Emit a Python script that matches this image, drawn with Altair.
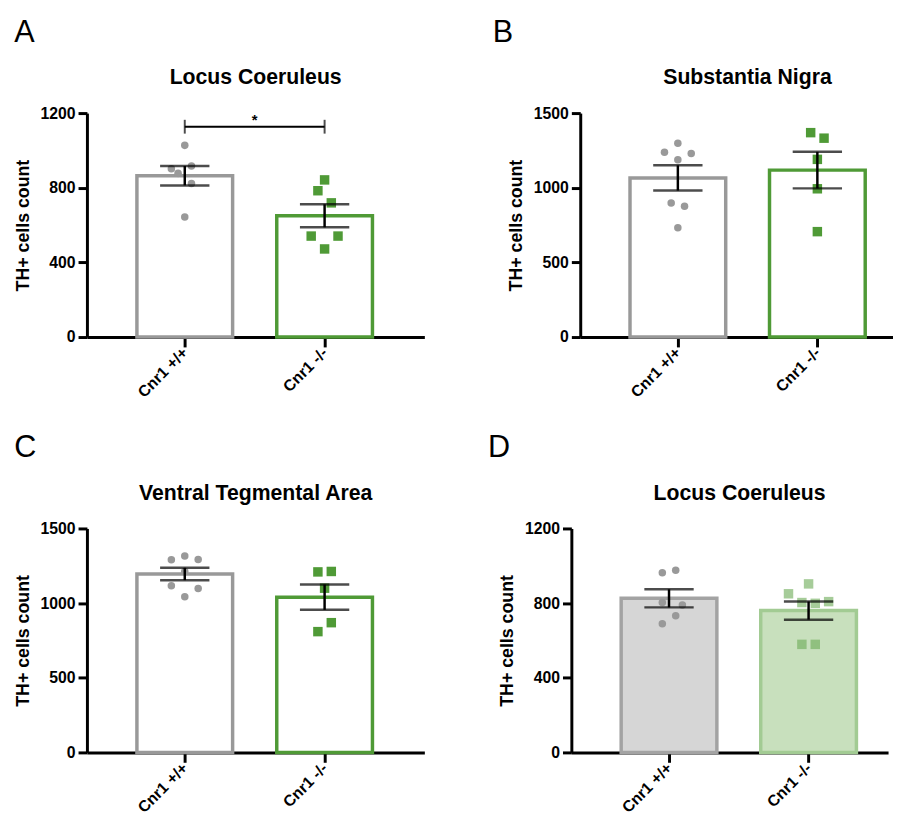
import altair as alt
import pandas as pd

FONT = "Liberation Sans"

groups = ["Cnr1 +/+", "Cnr1 -/-"]
panel_letters = ["A", "B", "C", "D"]
panel_titles = ["Locus Coeruleus", "Substantia Nigra", "Ventral Tegmental Area", "Locus Coeruleus"]
y_axis_title = "TH+ cells count"

# TH+ cell counts of individual animals
lc_wt = [1027, 902, 877, 916, 823, 643]
lc_ko = [842, 784, 719, 541, 541, 472]
sn_wt = [1298, 1237, 1230, 1188, 898, 876, 732]
sn_ko = [1369, 1332, 1190, 993, 706]
vta_wt = [1290, 1315, 1292, 1211, 1116, 1098, 1043]
vta_ko = [1209, 1212, 1100, 869, 809]
lc2_wt = [963, 976, 803, 790, 732, 690]
lc2_ko = [850, 903, 803, 799, 808, 579, 579]

# scatter slot (column) of each dot within its group
lc_wt_slot = [0, -2, -1, 1, 1, 0]
lc_ko_slot = [0, -1, 1, -2, 2, 0]
sn_wt_slot = [0, -2, 2, 0, -1, 1, 0]
sn_ko_slot = [-1, 1, 0, 0, 0]
vta_wt_slot = [-2, 0, 2, 0, -2, 2, 0]
vta_ko_slot = [-1, 1, 0, 1, -1]
lc2_wt_slot = [-1, 1, -1, 2, 1, -1]
lc2_ko_slot = [-3, 0, -1, 1, 3, -1, 1]

y_max = [1200, 1500, 1500, 1200]
y_ticks = [[0, 400, 800, 1200], [0, 500, 1000, 1500],
           [0, 500, 1000, 1500], [0, 400, 800, 1200]]

sig_level = 1127
sig_label = "*"

GRAY = "#999999"
GREEN = "#4f9a36"
PX_PER_UNIT = 146.0
X_MIN = -97.0 / PX_PER_UNIT
SLOT = 7.0 / PX_PER_UNIT
PLOT_H = 227

label_expr = "datum.value == 0 ? '%s' : '%s'" % (groups[0], groups[1])


def make_panel(letter, title, wt, ko, wt_slot, ko_slot, ymax, yticks, width,
               light=False, bracket=False, title_dx=0, letter_dx=0):
    df = pd.DataFrame({
        "idx": [0] * len(wt) + [1] * len(ko),
        "value": wt + ko,
        "slot": wt_slot + ko_slot,
    })
    xs = alt.Scale(domain=[X_MIN, X_MIN + width / PX_PER_UNIT], nice=False, zero=False)
    ys = alt.Scale(domain=[0, ymax], nice=False)
    xaxis = alt.Axis(values=[0, 1], labelExpr=label_expr, labelAngle=-45,
                     labelAlign="right", labelBaseline="middle",
                     labelFontSize=16, labelFontWeight="bold", labelColor="black",
                     labelPadding=3, tickSize=10, tickWidth=3, tickColor="black",
                     domainWidth=3, domainColor="black", grid=False, title=None)
    yaxis = alt.Axis(values=yticks, format="d", labelFontSize=16, labelFontWeight="bold",
                     labelColor="black", labelPadding=3, tickSize=9, tickWidth=3,
                     tickColor="black", domainWidth=3, domainColor="black", grid=False,
                     title=y_axis_title, titleFontSize=18, titleFontWeight="bold",
                     titleColor="black", titlePadding=8)
    X = lambda f: alt.X(f, scale=xs, axis=xaxis, title=None)
    Y = lambda f: alt.Y(f, scale=ys, axis=yaxis, title=y_axis_title)

    if light:
        fills = ("#d6d6d6", "#c8e0bd")
        strokes = ("#a3a3a3", "#a2cb93")
        pcol = (GRAY, "#6aaa55")
        pop = (1.0, 0.6)
    else:
        fills = ("white", "white")
        strokes = (GRAY, GREEN)
        pcol = (GRAY, GREEN)
        pop = (1.0, 1.0)
    cond = "datum.idx == 0"
    base = alt.Chart(df)

    bars = base.mark_bar(size=97, strokeWidth=3.5).encode(
        x=X("idx:Q"),
        y=Y("mean(value):Q"),
        fill=alt.condition(cond, alt.value(fills[0]), alt.value(fills[1])),
        stroke=alt.condition(cond, alt.value(strokes[0]), alt.value(strokes[1])),
    )
    pts = base.transform_calculate(px="datum.idx + datum.slot * %f" % SLOT).mark_point(
        filled=True, strokeWidth=0).encode(
        x=X("px:Q"),
        y=Y("value:Q"),
        shape=alt.condition(cond, alt.value("circle"), alt.value("square")),
        size=alt.condition(cond, alt.value(58), alt.value(92)),
        color=alt.condition(cond, alt.value(pcol[0]), alt.value(pcol[1])),
        opacity=alt.condition(cond, alt.value(pop[0]), alt.value(pop[1])),
    )
    agg = base.transform_aggregate(m="mean(value)", se="stderr(value)", groupby=["idx"]) \
        .transform_calculate(lo="datum.m - datum.se", hi="datum.m + datum.se")
    stem = agg.mark_rule(strokeWidth=2.5, color="black").encode(
        x=X("idx:Q"), y=Y("lo:Q"), y2="hi:Q")
    cap_hi = agg.mark_tick(orient="horizontal", size=50, thickness=2.5, color="black").encode(
        x=X("idx:Q"), y=Y("hi:Q"))
    cap_lo = agg.mark_tick(orient="horizontal", size=50, thickness=2.5, color="black").encode(
        x=X("idx:Q"), y=Y("lo:Q"))
    layers = [bars, pts, stem, cap_hi, cap_lo]

    if bracket:
        br = pd.DataFrame({"a": [0], "b": [1], "y": [sig_level]})
        ends = pd.DataFrame({"idx": [0, 1], "y": [sig_level, sig_level]})
        layers.append(alt.Chart(br).mark_rule(strokeWidth=2, color="black").encode(
            x=X("a:Q"), x2="b:Q", y=Y("y:Q")))
        layers.append(alt.Chart(ends).mark_tick(orient="vertical", size=14, thickness=2,
                                                color="black").encode(x=X("idx:Q"), y=Y("y:Q")))
        layers.append(alt.Chart(br).transform_calculate(mid="(datum.a + datum.b) / 2").mark_text(
            text=sig_label, fontSize=15, fontWeight="bold", baseline="alphabetic", dy=-2,
            color="black").encode(x=X("mid:Q"), y=Y("y:Q")))

    inner = alt.layer(*layers).properties(
        width=width, height=PLOT_H,
        title=alt.Title(title, fontSize=21.5, fontWeight="bold", color="black", anchor="middle",
                        frame="group", dx=title_dx, offset=16.5))
    return alt.vconcat(inner, title=alt.Title(letter, fontSize=31, fontWeight="normal",
                                              color="black", anchor="start", dx=letter_dx,
                                              offset=19))


pA = make_panel(panel_letters[0], panel_titles[0], lc_wt, lc_ko, lc_wt_slot, lc_ko_slot,
                y_max[0], y_ticks[0], 342, bracket=True)
pB = make_panel(panel_letters[1], panel_titles[1], sn_wt, sn_ko, sn_wt_slot, sn_ko_slot,
                y_max[1], y_ticks[1], 317, title_dx=11, letter_dx=-15)
pC = make_panel(panel_letters[2], panel_titles[2], vta_wt, vta_ko, vta_wt_slot, vta_ko_slot,
                y_max[2], y_ticks[2], 342)
pD = make_panel(panel_letters[3], panel_titles[3], lc2_wt, lc2_ko, lc2_wt_slot, lc2_ko_slot,
                y_max[3], y_ticks[3], 321, light=True, title_dx=10, letter_dx=-11)

chart = alt.vconcat(
    alt.hconcat(pA, pB, spacing=69),
    alt.hconcat(pC, pD, spacing=64),
    spacing=33,
).properties(
    padding={"left": 6, "top": 4, "right": 0, "bottom": 0}
).configure(font=FONT).configure_view(stroke=None)

chart.save("out.html", embed_options={"renderer": "svg", "actions": False})
